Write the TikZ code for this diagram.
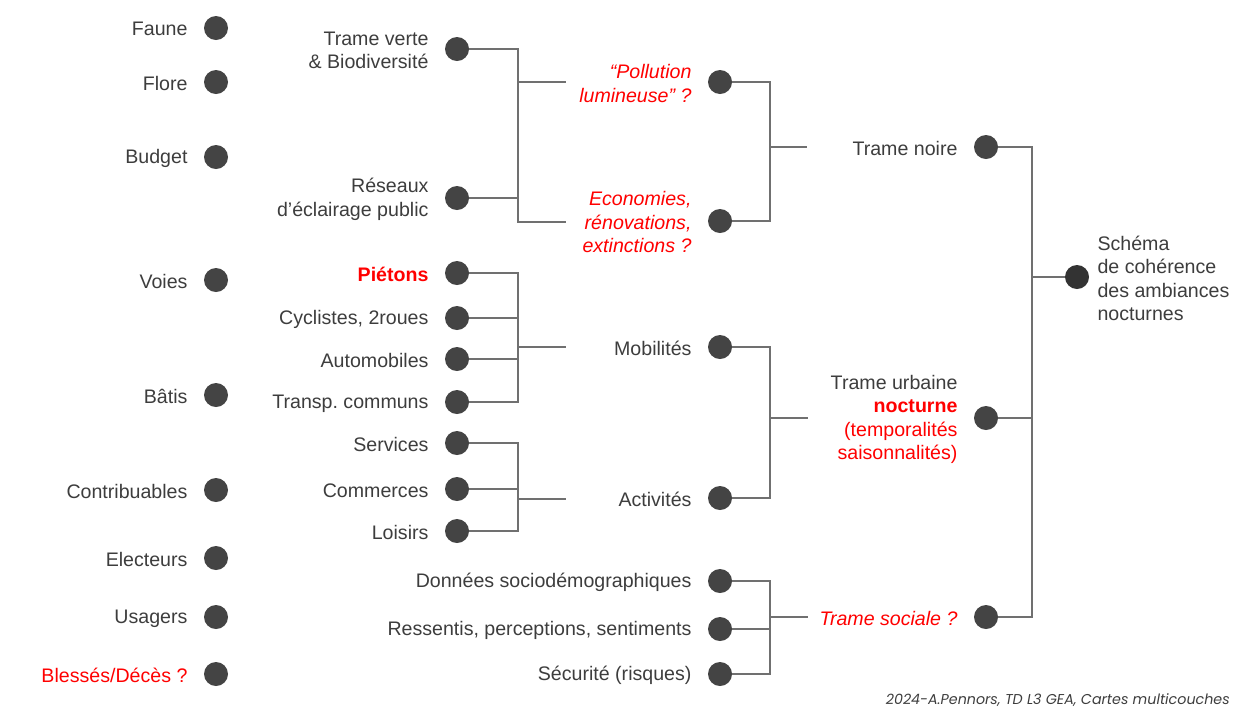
\documentclass[tikz,border=0pt]{standalone}
\usepackage{fontspec}
\setmainfont{Liberation Sans}
\newfontfamily\notefont{Poppins}
\usetikzlibrary{positioning}
\frenchspacing
\definecolor{txtgray}{HTML}{3D3D3D}
\definecolor{dotgray}{HTML}{444444}
\definecolor{rootgray}{HTML}{333333}
\definecolor{linegray}{HTML}{707070}
\definecolor{alert}{HTML}{FF0000}
\tikzset{dot/.style = {circle, fill=dotgray, minimum size=18pt, inner sep=0pt}}
\tikzset{lbl/.style = {align=right, inner sep=0pt, yshift=-1pt, text=txtgray, font=\fontsize{14.7}{17.6}\selectfont}}
\tikzset{warn/.style = {lbl, text=alert}}
\tikzset{link/.style = {draw=linegray, line width=0.9pt}}
\tikzset{note/.style = {inner sep=0pt, text=txtgray, font=\notefont\itshape\fontsize{10.7}{12}\selectfont}}

\begin{document}
\begin{tikzpicture}[x=0.75pt, y=-0.75pt, node distance=12pt]
  \useasboundingbox (0,0) rectangle (1234,708);

  % acteurs
  \node [dot] (faune) at (216,28) {};
  \node [lbl, left=of faune] (fauneL) {Faune};
  \node [dot] (flore) at (216,82) {};
  \node [lbl, left=of flore] (floreL) {Flore};
  \node [dot] (budget) at (216,157) {};
  \node [lbl, left=of budget] (budgetL) {Budget};
  \node [dot] (voies) at (216,280) {};
  \node [lbl, left=of voies] (voiesL) {Voies};
  \node [dot] (batis) at (216,395) {};
  \node [lbl, left=of batis] (batisL) {Bâtis};
  \node [dot] (contrib) at (216,490) {};
  \node [lbl, left=of contrib] (contribL) {Contribuables};
  \node [dot] (elect) at (216,558) {};
  \node [lbl, left=of elect] (electL) {Electeurs};
  \node [dot] (usag) at (216,617) {};
  \node [lbl, left=of usag] (usagL) {Usagers};
  \node [dot] (bless) at (216,674) {};
  \node [warn, left=of bless] (blessL) {Blessés/Décès ?};

  % composantes
  \node [dot] (tv) at (457,49) {};
  \node [lbl, left=of tv] (tvL) {Trame verte\\\& Biodiversité};
  \node [dot] (res) at (457,198) {};
  \node [lbl, left=of res] (resL) {Réseaux\\d’éclairage public};
  \node [dot] (pie) at (457,273) {};
  \node [warn, left=of pie] (pieL) {\bfseries Piétons};
  \node [dot] (cyc) at (457,318) {};
  \node [lbl, left=of cyc] (cycL) {Cyclistes, 2roues};
  \node [dot] (aut) at (457,359) {};
  \node [lbl, left=of aut] (autL) {Automobiles};
  \node [dot] (tra) at (457,402) {};
  \node [lbl, left=of tra] (traL) {Transp. communs};
  \node [dot] (ser) at (457,443) {};
  \node [lbl, left=of ser] (serL) {Services};
  \node [dot] (com) at (457,489) {};
  \node [lbl, left=of com] (comL) {Commerces};
  \node [dot] (loi) at (457,531) {};
  \node [lbl, left=of loi] (loiL) {Loisirs};

  % themes
  \node [dot] (pol) at (720,82) {};
  \node [warn, left=of pol] (polL) {\itshape “Pollution\\\itshape lumineuse” ?};
  \node [dot] (eco) at (720,221) {};
  \node [warn, left=of eco] (ecoL) {\itshape Economies,\\\itshape rénovations,\\\itshape extinctions ?};
  \node [dot] (mob) at (720,347) {};
  \node [lbl, left=of mob] (mobL) {Mobilités};
  \node [dot] (act) at (720,498) {};
  \node [lbl, left=of act] (actL) {Activités};
  \node [dot] (don) at (720,581) {};
  \node [lbl, left=of don] (donL) {Données sociodémographiques};
  \node [dot] (ress) at (720,629) {};
  \node [lbl, left=of ress] (ressL) {Ressentis, perceptions, sentiments};
  \node [dot] (secu) at (720,674) {};
  \node [lbl, left=of secu] (secuL) {Sécurité (risques)};

  % trames
  \node [dot] (noire) at (986,147) {};
  \node [lbl, left=of noire] (noireL) {Trame noire};
  \node [dot] (urb) at (986,418) {};
  \node [lbl, left=of urb] (urbL) {Trame urbaine\\\textcolor{alert}{\bfseries nocturne}\\\textcolor{alert}{(temporalités}\\\textcolor{alert}{saisonnalités)}};
  \node [dot] (soc) at (986,617) {};
  \node [warn, left=of soc] (socL) {\itshape Trame sociale ?};

  \node [dot, fill=rootgray] (sch) at (1077,277) {};
  \node [lbl, align=left, right=6pt of sch] (schL) {Schéma\\de cohérence\\des ambiances\\nocturnes};

  \node [note, anchor=base east] (credit) at (1230,704) {2024-A.Pennors, TD L3 GEA, Cartes multicouches};

  % accolades
  \coordinate (k1) at (518,222);
  \coordinate (s1a) at (566,82);
  \coordinate (s1b) at (566,222);
  \draw [link] (tv) -| (k1) -- (s1b);
  \draw [link] (res) -- (res -| k1);
  \draw [link] (k1 |- s1a) -- (s1a);

  \coordinate (k2) at (518,347);
  \coordinate (s2) at (566,347);
  \draw [link] (pie) -| (k2 |- tra) -- (tra);
  \draw [link] (cyc) -- (cyc -| k2);
  \draw [link] (aut) -- (aut -| k2);
  \draw [link] (k2) -- (s2);

  \coordinate (k3) at (518,499);
  \coordinate (s3) at (566,499);
  \draw [link] (ser) -| (k3 |- loi) -- (loi);
  \draw [link] (com) -- (com -| k3);
  \draw [link] (k3) -- (s3);

  \coordinate (k4) at (770,147);
  \coordinate (s4) at (807,147);
  \draw [link] (pol) -| (k4 |- eco) -- (eco);
  \draw [link] (k4) -- (s4);

  \coordinate (k5) at (770,418);
  \coordinate (s5) at (808,418);
  \draw [link] (mob) -| (k5 |- act) -- (act);
  \draw [link] (k5) -- (s5);

  \coordinate (k6) at (770,617);
  \coordinate (s6) at (808,617);
  \draw [link] (don) -| (k6 |- secu) -- (secu);
  \draw [link] (ress) -- (ress -| k6);
  \draw [link] (k6) -- (s6);

  \coordinate (k7) at (1032,277);
  \draw [link] (noire) -| (k7 |- soc) -- (soc);
  \draw [link] (urb) -- (urb -| k7);
  \draw [link] (k7) -- (sch);
\end{tikzpicture}
\end{document}
